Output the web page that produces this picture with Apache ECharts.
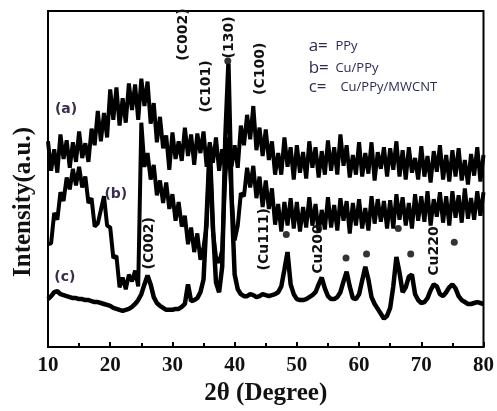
<!DOCTYPE html>
<html>
<head>
<meta charset="utf-8">
<script src="https://cdn.jsdelivr.net/npm/echarts@6/dist/echarts.min.js"></script>
<style>
html, body { margin: 0; padding: 0; background: #fff; }
#xrd { width: 497px; height: 411px; }
</style>
</head>
<body>
<div id="xrd"></div>
<script>
// 2theta grid (degree)
var twoTheta = [
    10, 10.5, 11, 11.5, 12, 12.5, 13, 13.5, 14, 14.5,
    15, 15.5, 16, 16.5, 17, 17.5, 18, 18.5, 19, 19.5,
    20, 20.5, 21, 21.5, 22, 22.5, 23, 23.5, 24, 24.5,
    25, 25.5, 26, 26.5, 27, 27.5, 28, 28.5, 29, 29.5,
    30, 30.5, 31, 31.5, 32, 32.5, 33, 33.5, 34, 34.5,
    35, 35.5, 36, 36.5, 37, 37.5, 38, 38.5, 39, 39.5,
    40, 40.5, 41, 41.5, 42, 42.5, 43, 43.5, 44, 44.5,
    45, 45.5, 46, 46.5, 47, 47.5, 48, 48.5, 49, 49.5,
    50, 50.5, 51, 51.5, 52, 52.5, 53, 53.5, 54, 54.5,
    55, 55.5, 56, 56.5, 57, 57.5, 58, 58.5, 59, 59.5,
    60, 60.5, 61, 61.5, 62, 62.5, 63, 63.5, 64, 64.5,
    65, 65.5, 66, 66.5, 67, 67.5, 68, 68.5, 69, 69.5,
    70, 70.5, 71, 71.5, 72, 72.5, 73, 73.5, 74, 74.5,
    75, 75.5, 76, 76.5, 77, 77.5, 78, 78.5, 79, 79.5,
    80
];

// (a) PPy
var ppyData = [
    210, 180, 202, 178, 217, 192, 211, 183, 209, 189,
    220, 193, 208, 189, 223, 206, 241, 210, 239, 214,
    263, 232, 265, 226, 254, 229, 269, 242, 268, 232,
    274, 246, 271, 228, 249, 209, 235, 203, 216, 181,
    219, 192, 210, 190, 224, 195, 217, 186, 218, 198,
    220, 184, 209, 188, 214, 180, 202, 180, 212, 184,
    206, 183, 226, 206, 237, 212, 246, 201, 224, 195,
    222, 191, 210, 176, 198, 176, 214, 184, 204, 171,
    206, 178, 199, 172, 210, 183, 204, 173, 200, 176,
    211, 180, 204, 176, 217, 185, 206, 173, 196, 176,
    209, 174, 198, 177, 209, 170, 199, 182, 204, 174,
    203, 181, 210, 174, 201, 171, 204, 178, 193, 171,
    205, 174, 195, 168, 200, 179, 206, 171, 196, 169,
    201, 174, 203, 170, 191, 166, 197, 175, 204, 169,
    196
];

// (b) Cu/PPy
var cuPpyData = [
    105, 106, 137, 130, 158, 149, 173, 161, 182, 165,
    184, 163, 174, 147, 152, 123, 126, 140, 154, 124,
    122, 91, 93, 61, 71, 59, 74, 67, 78, 62,
    229, 184, 198, 171, 186, 155, 170, 147, 168, 141,
    156, 129, 148, 123, 134, 105, 122, 97, 116, 89,
    102, 124, 204, 119, 92, 86, 99, 174, 214, 154,
    109, 124, 157, 154, 183, 163, 185, 152, 174, 143,
    170, 141, 162, 125, 146, 118, 148, 124, 152, 121,
    148, 118, 143, 122, 153, 124, 146, 117, 140, 120,
    153, 122, 145, 119, 152, 129, 149, 116, 147, 124,
    151, 121, 142, 119, 154, 126, 151, 128, 149, 121,
    150, 121, 156, 130, 153, 124, 147, 121, 156, 129,
    154, 128, 159, 124, 151, 133, 158, 127, 154, 124,
    159, 132, 155, 127, 162, 131, 152, 130, 159, 134,
    158
];

// (c) Cu/PPy/MWCNT
var cuPpyCntData = [
    49, 52, 56, 57, 54, 53, 52, 51, 50, 50,
    49, 49, 48, 48, 47, 46, 46, 45, 44, 43,
    42, 40, 39, 38, 37, 38, 39, 41, 44, 48,
    54, 64, 73, 64, 51, 45, 42, 40, 38, 38,
    38, 39, 39, 41, 44, 64, 47, 48, 50, 56,
    69, 134, 204, 124, 66, 56, 82, 214, 289, 154,
    74, 59, 54, 52, 52, 54, 53, 51, 52, 54,
    53, 52, 53, 54, 56, 62, 79, 97, 64, 54,
    49, 48, 48, 49, 51, 53, 56, 64, 71, 60,
    52, 49, 49, 51, 56, 67, 77, 62, 50, 49,
    54, 68, 82, 69, 51, 44, 39, 34, 29, 32,
    40, 62, 92, 76, 56, 61, 72, 74, 54, 48,
    45, 46, 50, 58, 64, 62, 54, 52, 56, 61,
    64, 60, 52, 48, 46, 44, 44, 45, 46, 45,
    44
];

// peak markers (dots)
var dotAngles = [48.3, 57.9, 61.2, 66.3, 68.3, 75.3, 38.9];
var dotValues = [115, 91, 95, 121, 95, 107, 292];

// rotated peak labels
var peakTexts = ['(C002)', '(C101)', '(130)', '(C100)', '(C002)', '(Cu111)', 'Cu200', 'Cu220'];
var peakAngles = [31.8, 35.4, 39.1, 44.2, 26.3, 44.7, 53.4, 72.1];
var peakValues = [319, 266, 316, 284, 106, 110, 100, 98];

// curve tags
var tagTexts = ['(a)', '(b)', '(c)'];
var tagAngles = [12.9, 20.9, 12.7];
var tagValues = [243, 156, 71];

// legend lines
var keyTexts = ['a=', 'b=', 'c='];
var keyNames = ['PPy', 'Cu/PPy', 'Cu/PPy/MWCNT'];
var keyValues = [307, 285, 265];

function pairs(xs, ys) {
    var out = [];
    for (var i = 0; i < xs.length; i++) {
        out.push([xs[i], ys[i]]);
    }
    return out;
}

var xrdChart = echarts.init(document.getElementById('xrd'));

var xrdOption = {
    animation: false,
    grid: {
        left: 48, right: 11, top: 11, bottom: 57,
        show: true,
        borderColor: '#000',
        borderWidth: 2
    },
    xAxis: {
        type: 'value',
        min: 10, max: 80, interval: 10,
        axisLine: { lineStyle: { color: '#000', width: 2 } },
        axisTick: { inside: true, length: 5, lineStyle: { color: '#000', width: 2 } },
        minorTick: { show: true, splitNumber: 2, length: 4, lineStyle: { color: '#000', width: 2 } },
        splitLine: { show: false },
        axisLabel: {
            color: '#111',
            fontFamily: 'Liberation Serif',
            fontWeight: 'bold',
            fontSize: 21,
            margin: 8
        },
        name: '2θ (Degree)',
        nameLocation: 'middle',
        nameGap: 30,
        nameTextStyle: {
            color: '#111',
            fontFamily: 'Liberation Serif',
            fontWeight: 'bold',
            fontSize: 25
        }
    },
    yAxis: {
        type: 'value',
        min: 0, max: 343,
        axisLine: { show: true, lineStyle: { color: '#000', width: 2 } },
        axisTick: { show: false },
        axisLabel: { show: false },
        splitLine: { show: false }
    },
    series: [
        {
            name: 'PPy',
            type: 'line',
            data: pairs(twoTheta, ppyData),
            symbol: 'none',
            lineStyle: { color: '#000', width: 4 },
            z: 3
        },
        {
            name: 'Cu/PPy',
            type: 'line',
            data: pairs(twoTheta, cuPpyData),
            symbol: 'none',
            lineStyle: { color: '#000', width: 4 },
            z: 3
        },
        {
            name: 'Cu/PPy/MWCNT',
            type: 'line',
            data: pairs(twoTheta, cuPpyCntData),
            symbol: 'none',
            lineStyle: { color: '#000', width: 4.5 },
            z: 4
        },
        {
            name: 'dots',
            type: 'scatter',
            data: pairs(dotAngles, dotValues),
            symbol: 'circle',
            symbolSize: 7,
            itemStyle: { color: '#000' },
            z: 5
        }
    ]
};
xrdChart.setOption(xrdOption);

// texts placed at data coordinates
var texts = [];
for (var i = 0; i < peakTexts.length; i++) {
    var p = xrdChart.convertToPixel({ gridIndex: 0 }, [peakAngles[i], peakValues[i]]);
    texts.push({
        type: 'text', x: p[0], y: p[1], rotation: Math.PI / 2, z: 10,
        style: {
            text: peakTexts[i], fill: '#111',
            font: 'bold 14px "DejaVu Sans"',
            textAlign: 'center', textVerticalAlign: 'middle'
        }
    });
}
for (var j = 0; j < tagTexts.length; j++) {
    var q = xrdChart.convertToPixel({ gridIndex: 0 }, [tagAngles[j], tagValues[j]]);
    texts.push({
        type: 'text', x: q[0], y: q[1], z: 10,
        style: {
            text: tagTexts[j], fill: '#3a2d4e',
            font: 'bold 14px "DejaVu Sans"',
            textAlign: 'center', textVerticalAlign: 'middle'
        }
    });
}
for (var k = 0; k < keyTexts.length; k++) {
    var r = xrdChart.convertToPixel({ gridIndex: 0 }, [51.9, keyValues[k]]);
    var s = xrdChart.convertToPixel({ gridIndex: 0 }, [k === 2 ? 57.0 : 56.2, keyValues[k]]);
    texts.push({
        type: 'text', x: r[0], y: r[1], z: 10,
        style: {
            text: keyTexts[k], fill: '#2b2b55',
            font: '17px "Open Sans"',
            textAlign: 'left', textVerticalAlign: 'middle'
        }
    });
    texts.push({
        type: 'text', x: s[0], y: s[1], z: 10,
        style: {
            text: keyNames[k], fill: '#2b2b55',
            font: '13px "Open Sans"',
            textAlign: 'left', textVerticalAlign: 'middle'
        }
    });
}
// y axis title
texts.push({
    type: 'text', x: 24, y: 202, rotation: Math.PI / 2, z: 10,
    style: {
        text: 'Intensity(a.u.)', fill: '#111',
        font: 'bold 25px "Liberation Serif"',
        textAlign: 'center', textVerticalAlign: 'middle'
    }
});
xrdChart.setOption({ graphic: texts });
</script>
</body>
</html>
